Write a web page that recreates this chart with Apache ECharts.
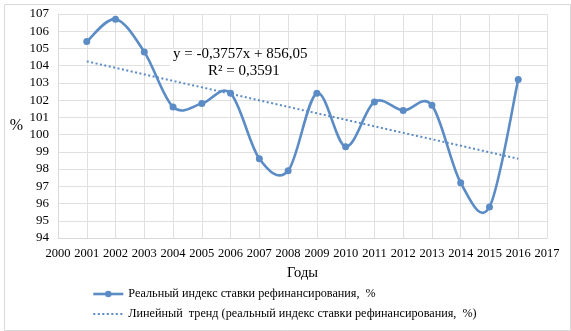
<!DOCTYPE html>
<html><head><meta charset="utf-8">
<script src="https://cdn.jsdelivr.net/npm/echarts@6/dist/echarts.min.js"></script>
<style>html,body{margin:0;padding:0;background:#fff}#c{width:571px;height:331px}</style>
</head><body><div id="c"></div>
<script>
const years = [2001,2002,2003,2004,2005,2006,2007,2008,2009,2010,2011,2012,2013,2014,2015,2016];
const realIndex = [105.4,106.7,104.8,101.6,101.8,102.4,98.6,97.9,102.4,99.3,101.9,101.4,101.7,97.2,95.8,103.2];
const trendYears = [2001,2016];
const trendValues = [104.25,98.6];
const seriesNames = ['Реальный индекс ставки рефинансирования,  %','Линейный  тренд (реальный индекс ставки рефинансирования,  %)'];
const equationLines = ['y = -0,3757x + 856,05','R² = 0,3591'];
const xName = 'Годы', yName = '%';

const font = '"Liberation Serif","Times New Roman",serif';
const blue = '#5b8cc5';
const chart = echarts.init(document.getElementById('c'), null, {renderer:'canvas'});

function smoothSegment(params, api){
  const i = params.dataIndex, n = years.length;
  if (i >= n-1) return null;
  const P = k => api.coord([years[Math.max(0,Math.min(n-1,k))], realIndex[Math.max(0,Math.min(n-1,k))]]);
  const p0 = P(i-1), p1 = P(i), p2 = P(i+1), p3 = P(i+2);
  return {
    type:'bezierCurve',
    shape:{x1:p1[0],y1:p1[1],x2:p2[0],y2:p2[1],
      cpx1:p1[0]+(p2[0]-p0[0])/6, cpy1:p1[1]+(p2[1]-p0[1])/6,
      cpx2:p2[0]-(p3[0]-p1[0])/6, cpy2:p2[1]-(p3[1]-p1[1])/6},
    style:{stroke:blue,lineWidth:2.6,fill:null,lineCap:'round'},
    silent:true
  };
}

chart.setOption({
  animation:false,
  backgroundColor:'#fff',
  grid:{left:58,right:24,top:14,bottom:93,containLabel:false},
  xAxis:{type:'value',min:2000,max:2017,interval:1,
    axisLine:{show:true,lineStyle:{color:'#d9d9d9'}},axisTick:{show:false},
    splitLine:{show:true,lineStyle:{color:'#e0e0e0'}},
    axisLabel:{color:'#000',fontFamily:font,fontSize:12.5,margin:9,formatter:v=>String(v)},
    name:xName,nameLocation:'middle',nameGap:28,nameTextStyle:{color:'#000',fontFamily:font,fontSize:14.5}},
  yAxis:{type:'value',min:94,max:107,interval:1,
    axisLine:{show:true,lineStyle:{color:'#d9d9d9'}},axisTick:{show:false},
    splitLine:{show:true,lineStyle:{color:'#e0e0e0'}},
    axisLabel:{color:'#000',fontFamily:font,fontSize:13,margin:9},
    name:yName,nameLocation:'middle',nameRotate:0,nameGap:35,nameTextStyle:{color:'#000',fontFamily:font,fontSize:16}},
  legend:{orient:'vertical',left:87,top:283,itemGap:8,itemWidth:30,itemHeight:8,
    textStyle:{color:'#000',fontFamily:font,fontSize:12.2},
    data:[{name:seriesNames[0],lineStyle:{color:blue,width:2.6,opacity:1}},
          {name:seriesNames[1],itemStyle:{opacity:0},lineStyle:{color:blue,width:2,type:[2,2.5],opacity:1}}]},
  graphic:[
    {type:'rect',left:2,top:2,shape:{width:566,height:326},style:{fill:'none',stroke:'#d9d9d9',lineWidth:1},silent:true,z:-1},
    {type:'rect',left:170,top:49,shape:{width:140,height:33},style:{fill:'#fff'},silent:true,z:1},
    {type:'text',left:173,top:47,z:10,style:{text:equationLines[0],font:'15px '+font,fill:'#000'}},
    {type:'text',left:208,top:64,z:10,style:{text:equationLines[1],font:'15px '+font,fill:'#000'}}
  ],
  series:[
    {name:seriesNames[0],type:'line',data:years.map((y,i)=>[y,realIndex[i]]),
      symbol:'circle',symbolSize:7,showSymbol:true,
      lineStyle:{color:blue,width:0,opacity:0},itemStyle:{color:blue},z:4},
    {type:'custom',data:years.map((y,i)=>[y,realIndex[i]]),renderItem:smoothSegment,z:3,silent:true},
    {name:seriesNames[1],type:'line',data:trendYears.map((y,i)=>[y,trendValues[i]]),
      symbol:'none',lineStyle:{color:blue,width:2,type:[2,2.5]},itemStyle:{color:blue},z:2}
  ]
});
</script></body></html>
